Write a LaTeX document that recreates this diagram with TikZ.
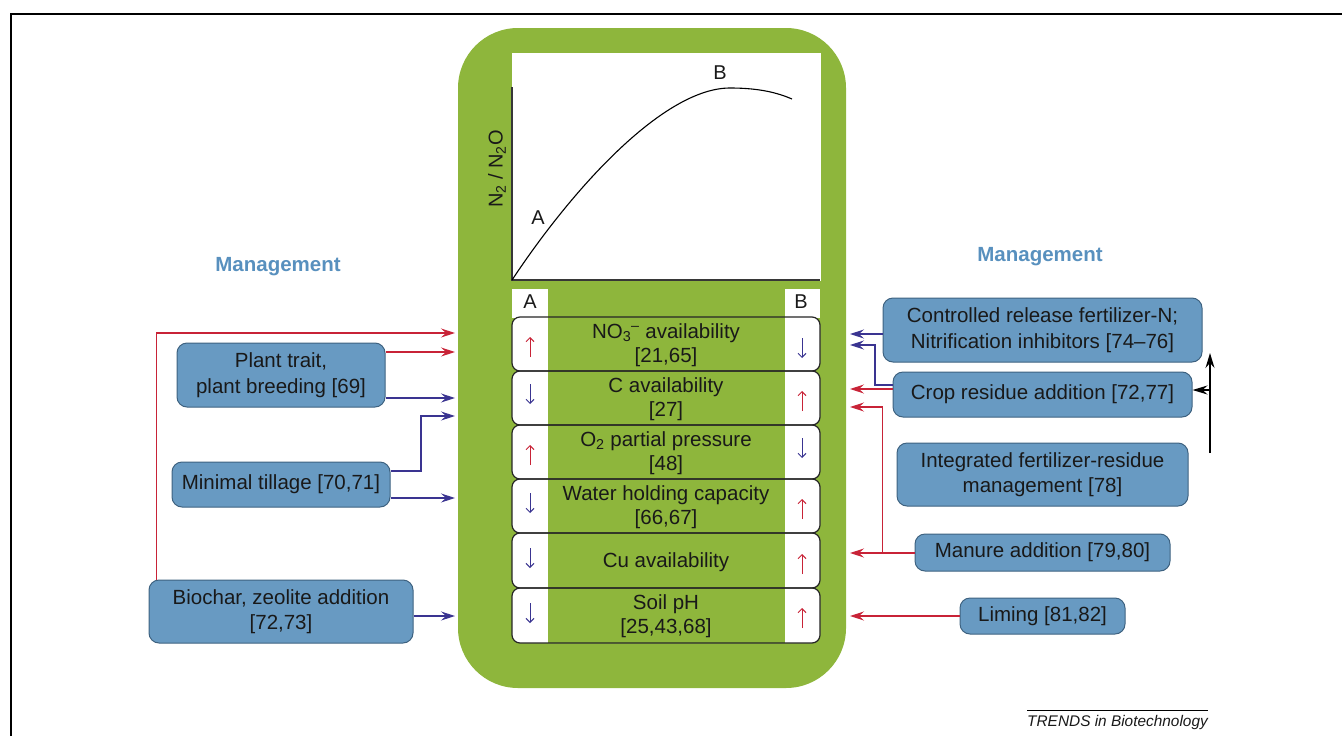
\documentclass[tikz,border=0pt]{standalone}
\usepackage{fontspec}
\setmainfont{Liberation Sans}
\usetikzlibrary{arrows.meta,calc}
\definecolor{panelgreen}{RGB}{142,182,60}
\definecolor{boxfill}{RGB}{104,154,194}
\definecolor{boxline}{RGB}{62,98,128}
\definecolor{mgmt}{RGB}{88,144,190}
\definecolor{arrred}{RGB}{200,35,55}
\definecolor{arrblue}{RGB}{58,52,145}
\definecolor{txt}{RGB}{25,25,25}
\definecolor{axisgrey}{RGB}{55,55,55}
\begin{document}
\begin{tikzpicture}[x=1pt,y=-1pt,
  mbox/.style={draw=boxline, line width=1pt, fill=boxfill, rounded corners=10pt, align=center, text=txt, font=\fontsize{20.5}{25.5}\selectfont, inner sep=0pt},
  rowtext/.style={align=center, text=txt, font=\fontsize{20.5}{24.5}\selectfont, inner sep=0pt},
  coltext/.style={text=txt, font=\fontsize{20}{24}\selectfont, inner sep=0pt},
  mtitle/.style={text=mgmt, font=\fontsize{20.5}{24}\selectfont\bfseries, inner sep=0pt},
  redarr/.style={draw=arrred, line width=1.2pt, -{Stealth[length=14pt,width=9pt,inset=5pt]}},
  bluearr/.style={draw=arrblue, line width=1.2pt, -{Stealth[length=14pt,width=9pt,inset=5pt]}},
  blkarr/.style={draw=black, line width=1.4pt, -{Stealth[length=15pt,width=9pt,inset=5pt]}},
  tabred/.style={draw=arrred, line width=1pt, -{Straight Barb[length=4pt,width=8pt]}},
  tabblue/.style={draw=arrblue, line width=1pt, -{Straight Barb[length=4pt,width=8pt]}},
  rowline/.style={draw=black!85, line width=1.2pt, rounded corners=8pt},
]
\useasboundingbox (0,0) rectangle (1343,736);
% frame
\draw[line width=1.5pt] (11,736) -- (11,14) -- (1342,14);

% green panel
\node[fill=panelgreen, rounded corners=60pt, minimum width=388pt, minimum height=660pt, inner sep=0pt] (panel) at (652,358) {};

% graph
\fill[white] (512,53) rectangle (821,281);
\draw[draw=axisgrey, line width=1.2pt] (512,87) -- (512,280) -- (820,280);
\draw[line width=1.1pt] (512,280) .. controls (575,185) and (665,88) .. (730,88) .. controls (760,88) and (778,93) .. (792,99);
\node[coltext] (ptA) at (538,218) {A};
\node[coltext] (ptB) at (720,73) {B};
\node[coltext, rotate=90] (ylab) at (497,169) {N\textsubscript{2} / N\textsubscript{2}O};

% table
\foreach \t/\b in {317/371,371/425,425/479,479/533,533/588,588/643}{
  \fill[white, rounded corners=8pt] (512,\t) rectangle (820,\b);
}
\fill[panelgreen] (548,317) rectangle (785,643);
\fill[white] (512,289) rectangle (548,318);
\fill[white] (785,289) rectangle (820,318);
\foreach \t/\b in {317/371,371/425,425/479,479/533,533/588,588/643}{
  \draw[rowline] (512,\t) rectangle (820,\b);
}
\node[coltext] (hA) at (530,302) {A};
\node[coltext] (hB) at (801,302) {B};

\node[rowtext] (r1) at (666,345) {NO\textsubscript{3}\textsuperscript{–} availability\\{}[21,65]};
\node[rowtext] (r2) at (666,399) {C availability\\{}[27]};
\node[rowtext] (r3) at (666,453) {O\textsubscript{2} partial pressure\\{}[48]};
\node[rowtext] (r4) at (666,507) {Water holding capacity\\{}[66,67]};
\node[rowtext] (r5) at (666,562) {Cu availability};
\node[rowtext] (r6) at (666,616) {Soil pH\\{}[25,43,68]};

% column arrows
\draw[tabred]  (530,357) -- (530,337);
\draw[tabblue] (530,384) -- (530,404);
\draw[tabred]  (530,465) -- (530,445);
\draw[tabblue] (530,493) -- (530,513);
\draw[tabblue] (530,548) -- (530,568);
\draw[tabblue] (530,603) -- (530,623);
\draw[tabblue] (802,338) -- (802,358);
\draw[tabred]  (802,411) -- (802,391);
\draw[tabblue] (802,438) -- (802,458);
\draw[tabred]  (802,519) -- (802,499);
\draw[tabred]  (802,574) -- (802,554);
\draw[tabred]  (802,628) -- (802,608);

% titles
\node[mtitle] (mL) at (278,267) {Management};
\node[mtitle] (mR) at (1040,257) {Management};

% left boxes
\node[mbox, minimum width=208pt, minimum height=64pt] (plant) at (281,375) {Plant trait,\\plant breeding [69]};
\node[mbox, minimum width=218pt, minimum height=45pt] (tillage) at (281,484.5) {Minimal tillage [70,71]};
\node[mbox, minimum width=264pt, minimum height=63pt] (biochar) at (281,611.5) {Biochar, zeolite addition\\{}[72,73]};

% right boxes
\node[mbox, minimum width=319pt, minimum height=64pt] (crf) at (1042.5,330) {Controlled release fertilizer-N;\\Nitrification inhibitors [74–76]};
\node[mbox, minimum width=299pt, minimum height=45pt] (crop) at (1042.5,394.5) {Crop residue addition [72,77]};
\node[mbox, minimum width=291pt, minimum height=63pt] (integ) at (1042.5,474.5) {Integrated fertilizer-residue\\management [78]};
\node[mbox, minimum width=255pt, minimum height=37pt] (manure) at (1042.5,552.5) {Manure addition [79,80]};
\node[mbox, minimum width=165pt, minimum height=36pt] (liming) at (1042.5,616) {Liming [81,82]};

% arrow end points
\coordinate (L1) at (455,333);
\coordinate (L2) at (455,352);
\coordinate (L3) at (455,398);
\coordinate (L4) at (455,416);
\coordinate (L5) at (455,498);
\coordinate (L6) at (455,616);
\coordinate (R1) at (850,334);
\coordinate (R2) at (850,345);
\coordinate (R3) at (850,389);
\coordinate (R4) at (850,407);
\coordinate (R5) at (850,553);
\coordinate (R6) at (850,616);
\coordinate (K1) at (1210,453);
\coordinate (K2) at (1210,353);
\coordinate (K3) at (1210,390);

% left connectors
\draw[redarr] ([xshift=8pt]biochar.north west) |- (L1);
\draw[redarr] (plant.east |- L2) -- (L2);
\draw[bluearr] (plant.east |- L3) -- (L3);
\draw[bluearr] ([yshift=13.5pt]tillage.east) -| ($(L4)+(-34,0)$) -- (L4);
\draw[bluearr] (tillage.east |- L5) -- (L5);
\draw[bluearr] (biochar.east |- L6) -- (L6);

% right connectors
\draw[bluearr] (crf.west |- R1) -- (R1);
\draw[bluearr] ([yshift=9.5pt]crop.west) -| ($(R2)+(25,0)$) -- (R2);
\draw[redarr] (crop.west |- R3) -- (R3);
\draw[redarr] (manure.west |- R5) -- (R5);
\draw[redarr] ($(manure.west |- R5)+(-32,0)$) |- (R4);
\draw[redarr] (liming.west |- R6) -- (R6);
\draw[blkarr] (K1) -- (K2);
\draw[blkarr] (K3) -- (crop.east |- K3);

% credit
\node[text=txt, font=\fontsize{15.4}{18}\selectfont\itshape, inner sep=0pt, anchor=base] (trends) at (1117.5,726) {TRENDS in Biotechnology};
\draw[line width=0.6pt] ([yshift=4pt]trends.north west) -- ([yshift=4pt]trends.north east);
\end{tikzpicture}
\end{document}
